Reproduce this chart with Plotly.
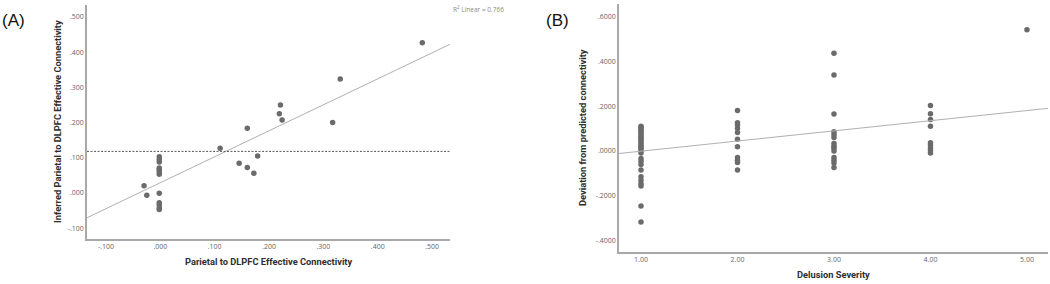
import plotly.graph_objects as go

# ---------------- Panel A data ----------------
a_x = [-0.030, -0.025,
       -0.002, -0.002, -0.002, -0.002, -0.002, -0.002, -0.002, -0.002, -0.002, -0.002, -0.002, -0.002,
       0.110, 0.145, 0.160, 0.160, 0.172, 0.179,
       0.221, 0.219, 0.224, 0.317, 0.331, 0.482]
a_y = [0.020, -0.007,
       0.103, 0.095, 0.088, 0.071, 0.066, 0.060, 0.053, -0.001, -0.028, -0.034, -0.042, -0.047,
       0.127, 0.084, 0.072, 0.184, 0.056, 0.105,
       0.250, 0.225, 0.207, 0.200, 0.324, 0.427]
a_fit_slope = 0.738
a_fit_intercept = 0.029
a_ref_y = 0.118
a_r2_text = "R<sup>2</sup> Linear = 0.766"
a_xrange = [-0.135, 0.533]
a_yrange = [-0.131, 0.534]
a_xticks = [-0.1, 0.0, 0.1, 0.2, 0.3, 0.4, 0.5]
a_xticklabels = ["-.100", ".000", ".100", ".200", ".300", ".400", ".500"]
a_yticks = [-0.1, 0.0, 0.1, 0.2, 0.3, 0.4, 0.5]
a_yticklabels = ["-.100", ".000", ".100", ".200", ".300", ".400", ".500"]
a_xtitle = "Parietal to DLPFC Effective Connectivity"
a_ytitle = "Inferred Parietal to DLPFC Effective Connectivity"

# ---------------- Panel B data ----------------
b_sev1 = [0.110, 0.105, 0.100, 0.092, 0.085, 0.078, 0.070, 0.062, 0.055, 0.048, 0.040, 0.032,
          0.024, 0.016, 0.008, 0.000, -0.010, -0.034, -0.046, -0.061, -0.086, -0.116, -0.131,
          -0.146, -0.157, -0.246, -0.318]
b_sev2 = [0.180, 0.125, 0.115, 0.100, 0.082, 0.052, 0.018, -0.030, -0.042, -0.052, -0.086]
b_sev3 = [0.436, 0.339, 0.164, 0.085, 0.073, 0.060, 0.033, 0.021, 0.011, -0.001, -0.030,
          -0.042, -0.054, -0.074]
b_sev4 = [0.203, 0.166, 0.140, 0.110, 0.036, 0.026, 0.013, 0.002, -0.010]
b_sev5 = [0.541]
b_fit_slope = 0.0454
b_fit_intercept = -0.047
b_xrange = [0.772, 5.218]
b_yrange = [-0.452, 0.656]
b_xticks = [1, 2, 3, 4, 5]
b_xticklabels = ["1.00", "2.00", "3.00", "4.00", "5.00"]
b_yticks = [-0.4, -0.2, 0.0, 0.2, 0.4, 0.6]
b_yticklabels = ["-.4000", "-.2000", ".0000", ".2000", ".4000", ".6000"]
b_xtitle = "Delusion Severity"
b_ytitle = "Deviation from predicted connectivity"

b_x = [1] * len(b_sev1) + [2] * len(b_sev2) + [3] * len(b_sev3) + [4] * len(b_sev4) + [5] * len(b_sev5)
b_y = b_sev1 + b_sev2 + b_sev3 + b_sev4 + b_sev5

W, H = 1050, 284
def px_x(p): return p / W
def px_y(p): return 1 - p / H

MARK = "#6b6b6b"
FIT = "#b0b0b0"
AXIS = "#a8a8a8"
TICKC = "#666666"
TITLEC = "#2e2e2e"
FONT = "Open Sans"
TFONT = "Roboto"

fig = go.Figure()

# Panel A
fig.add_trace(go.Scatter(x=a_x, y=a_y, mode="markers", xaxis="x", yaxis="y",
                         marker=dict(color=MARK, size=5.5), showlegend=False, hoverinfo="skip"))
fig.add_trace(go.Scatter(x=a_xrange, y=[a_fit_intercept + a_fit_slope * v for v in a_xrange],
                         mode="lines", xaxis="x", yaxis="y",
                         line=dict(color=FIT, width=1), showlegend=False, hoverinfo="skip"))
fig.add_trace(go.Scatter(x=a_xrange, y=[a_ref_y, a_ref_y], mode="lines", xaxis="x", yaxis="y",
                         line=dict(color="#555555", width=1, dash="2px,1.5px"),
                         showlegend=False, hoverinfo="skip"))

# Panel B
fig.add_trace(go.Scatter(x=b_x, y=b_y, mode="markers", xaxis="x2", yaxis="y2",
                         marker=dict(color=MARK, size=5.5), showlegend=False, hoverinfo="skip"))
fig.add_trace(go.Scatter(x=b_xrange, y=[b_fit_intercept + b_fit_slope * v for v in b_xrange],
                         mode="lines", xaxis="x2", yaxis="y2",
                         line=dict(color=FIT, width=1), showlegend=False, hoverinfo="skip"))

axis_common = dict(showgrid=False, zeroline=False, showline=True, linecolor=AXIS, linewidth=1.5,
                   ticks="", tickfont=dict(family=FONT, size=7, color=TICKC))

fig.update_layout(
    width=W, height=H,
    margin=dict(l=0, r=0, t=0, b=0),
    paper_bgcolor="white", plot_bgcolor="white",
    xaxis=dict(domain=[px_x(87), px_x(450)], range=a_xrange, tickvals=a_xticks,
               ticktext=a_xticklabels, anchor="y", **axis_common),
    yaxis=dict(domain=[px_y(239), px_y(5)], range=a_yrange, tickvals=a_yticks,
               ticktext=a_yticklabels, anchor="x", **axis_common),
    xaxis2=dict(domain=[px_x(619), px_x(1048)], range=b_xrange, tickvals=b_xticks,
                ticktext=b_xticklabels, anchor="y2", **axis_common),
    yaxis2=dict(domain=[px_y(252), px_y(4)], range=b_yrange, tickvals=b_yticks,
                ticktext=b_yticklabels, anchor="x2", **axis_common),
)

ann = []
tfont = dict(family=TFONT, size=9.3, color=TITLEC)
ann.append(dict(text="<b>" + a_xtitle + "</b>", x=px_x(268.5), y=px_y(261), xref="paper", yref="paper",
                showarrow=False, font=tfont, xanchor="center", yanchor="middle"))
ann.append(dict(text="<b>" + a_ytitle + "</b>", x=px_x(57), y=px_y(122), xref="paper", yref="paper",
                showarrow=False, font=tfont, textangle=-90, xanchor="center", yanchor="middle"))
ann.append(dict(text="<b>" + b_xtitle + "</b>", x=px_x(833.5), y=px_y(274), xref="paper", yref="paper",
                showarrow=False, font=tfont, xanchor="center", yanchor="middle"))
ann.append(dict(text="<b>" + b_ytitle + "</b>", x=px_x(582), y=px_y(128), xref="paper", yref="paper",
                showarrow=False, font=tfont, textangle=-90, xanchor="center", yanchor="middle"))
ann.append(dict(text="(A)", x=px_x(0), y=px_y(20), xref="paper", yref="paper", showarrow=False,
                font=dict(family="Liberation Sans", size=17, color="#111111"),
                xanchor="left", yanchor="middle"))
ann.append(dict(text="(B)", x=px_x(544), y=px_y(20), xref="paper", yref="paper", showarrow=False,
                font=dict(family="Liberation Sans", size=17, color="#111111"),
                xanchor="left", yanchor="middle"))
ann.append(dict(text=a_r2_text, x=px_x(451), y=px_y(9), xref="paper", yref="paper", showarrow=False,
                font=dict(family=FONT, size=6.5, color="#8a8a8a"), xanchor="left", yanchor="middle"))
fig.update_layout(annotations=ann)

fig.write_html("out.html", config={"displayModeBar": False},
               post_script="document.body.style.margin='0';document.body.style.overflow='hidden';")
